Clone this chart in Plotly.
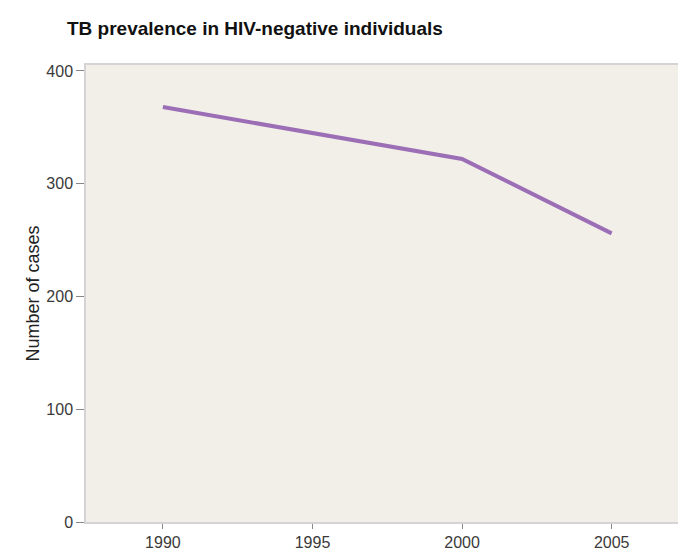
import plotly.graph_objects as go

years = [1990, 2000, 2005]
cases = [368, 322, 256]
x_ticks = [1990, 1995, 2000, 2005]
y_ticks = [0, 100, 200, 300, 400]

title_text = "TB prevalence in HIV-negative individuals"
y_title = "Number of cases"

font_family = "Liberation Sans, Arial, sans-serif"

fig = go.Figure()
fig.add_trace(go.Scatter(
    x=years, y=cases, mode="lines",
    line=dict(color="#9c6eb6", width=4),
    showlegend=False, hoverinfo="skip",
))

fig.update_layout(
    width=682, height=556,
    margin=dict(l=86, r=0, t=65, b=34),
    paper_bgcolor="white",
    plot_bgcolor="#f2efe9",
    title=dict(
        text="<b>" + title_text + "</b>",
        x=67 / 682, xanchor="left", xref="container",
        y=1 - 28 / 556, yanchor="middle", yref="container",
        font=dict(family=font_family, size=19, color="#111111"),
    ),
    font=dict(family=font_family, size=16, color="#3a3a3a"),
)

fig.update_xaxes(
    range=[1987.43, 2007.35],
    tickvals=x_ticks, ticktext=[str(v) for v in x_ticks],
    showgrid=False, zeroline=False,
    showline=True, linecolor="#d4d4d4", linewidth=1.5, mirror=True,
    ticks="outside", ticklen=5, tickcolor="#888888", tickwidth=1,
    tickfont=dict(size=16, color="#3a3a3a"),
)
fig.update_yaxes(
    range=[0, 405.3],
    tickvals=y_ticks, ticktext=[str(v) for v in y_ticks],
    showgrid=False, zeroline=False,
    showline=True, linecolor="#d4d4d4", linewidth=1.5, mirror=False,
    ticks="outside", ticklen=8, tickcolor="#888888", tickwidth=1,
    tickfont=dict(size=16, color="#3a3a3a"),
)

fig.add_annotation(
    text=y_title, xref="paper", yref="paper", x=0, y=0.5,
    xshift=-66, textangle=-90, showarrow=False,
    font=dict(family=font_family, size=18, color="#222222"),
)

fig.write_html(
    "out.html",
    config={"displayModeBar": False},
    post_script="document.body.style.margin='0';document.body.style.overflow='hidden';",
)
